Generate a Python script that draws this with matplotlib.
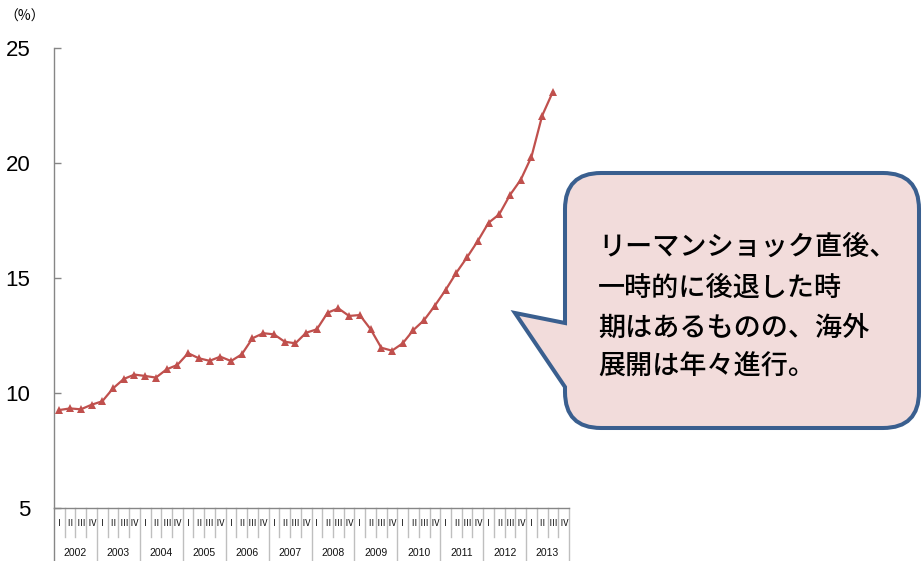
"""
海外生産比率（四半期）の推移と、リーマンショック後の動きを示す吹き出し付きグラフ。
"""
import matplotlib.pyplot as plt
from matplotlib.patches import PathPatch
from matplotlib.path import Path

# ---------------------------------------------------------------- データ
years = [str(y) for y in range(2002, 2014)]
quarters = ["Ⅰ", "Ⅱ", "Ⅲ", "Ⅳ"]
# 2002年Ⅰ期〜2013年Ⅲ期（%）
share = [9.26, 9.33, 9.29, 9.49, 9.64, 10.20, 10.61, 10.80, 10.74, 10.67,
         11.03, 11.22, 11.73, 11.51, 11.40, 11.58, 11.39, 11.68, 12.38, 12.60,
         12.55, 12.23, 12.16, 12.62, 12.77, 13.49, 13.68, 13.35, 13.39, 12.78,
         11.97, 11.84, 12.16, 12.74, 13.17, 13.80, 14.48, 15.23, 15.90, 16.61,
         17.40, 17.77, 18.61, 19.27, 20.27, 22.06, 23.10]
y_ticks = [5, 10, 15, 20, 25]
note_lines = ["リーマンショック直後、", "一時的に後退した時",
              "期はあるものの、海外", "展開は年々進行。"]

W, H = 922, 561
LINE_RED = "#C0504D"
GRID_GREY = "#BFBFBF"
AXIS_GREY = "#868686"
JP = ["Noto Sans CJK JP", "DejaVu Sans"]
NARROW = ["Liberation Sans Narrow", "Liberation Sans", "DejaVu Sans"]


def px(x, y):
    """ピクセル座標 -> figure 座標"""
    return x / W, 1 - y / H


def callout_path(left, top, right, bottom, r, tip, base_top, base_bot):
    verts, codes = [], []

    def move(p):
        verts.append(px(*p)); codes.append(Path.MOVETO)

    def line(p):
        verts.append(px(*p)); codes.append(Path.LINETO)

    def corner(c, p):
        verts.extend([px(*c), px(*p)]); codes.extend([Path.CURVE3, Path.CURVE3])

    move((left, base_top))
    line(tip)
    line((left, base_bot))
    line((left, bottom - r))
    corner((left, bottom), (left + r, bottom))
    line((right - r, bottom))
    corner((right, bottom), (right, bottom - r))
    line((right, top + r))
    corner((right, top), (right - r, top))
    line((left + r, top))
    corner((left, top), (left, top + r))
    line((left, base_top))
    verts.append(px(left, base_top)); codes.append(Path.CLOSEPOLY)
    return Path(verts, codes)


fig = plt.figure(figsize=(W / 100, H / 100), dpi=100)
ax = fig.add_axes([54 / W, 53 / H, 515 / W, 460 / H])

xs = list(range(len(share)))
ax.plot(xs, share, color=LINE_RED, linewidth=1.6, marker="^", markersize=6,
        markeredgewidth=0, zorder=3)

n_cat = len(years) * len(quarters)
ax.set_xlim(-0.5, n_cat - 0.5)
ax.set_ylim(5, 25)
ax.set_yticks(y_ticks)
ax.set_yticklabels([str(v) for v in y_ticks], family=NARROW, fontsize=16)
ax.set_xticks([])
ax.tick_params(axis="y", direction="in", length=5, width=1, color=AXIS_GREY, pad=17)

for side in ("top", "right"):
    ax.spines[side].set_visible(False)
for side in ("left", "bottom"):
    ax.spines[side].set_color(AXIS_GREY)
    ax.spines[side].set_linewidth(1)

# 横軸の表形式ラベル（四半期 / 年）
xt = ax.get_xaxis_transform()
q_sep = -29 / 460
y_sep = -53 / 460
for k in range(1, n_cat):
    if k % 4 == 0:
        ax.plot([k - 0.5, k - 0.5], [0, y_sep], transform=xt, color=GRID_GREY,
                linewidth=1, clip_on=False)
    else:
        ax.plot([k - 0.5, k - 0.5], [0, q_sep], transform=xt, color=GRID_GREY,
                linewidth=1, clip_on=False)
for edge in (-0.5, n_cat - 0.5):
    ax.plot([edge, edge], [0, y_sep], transform=xt, color=GRID_GREY if edge > 0 else AXIS_GREY,
            linewidth=1, clip_on=False)

for i, yr in enumerate(years):
    for j, q in enumerate(quarters):
        ax.text(i * 4 + j, -15 / 460, q, transform=xt, ha="center", va="center",
                fontsize=6.5, family=JP, color="#111111")
    ax.text(i * 4 + 1.5, -45 / 460, yr, transform=xt, ha="center", va="center",
            fontsize=7.5, family=NARROW, color="#111111")

fig.text(*px(25, 17), "（%）", ha="center", va="center", fontsize=10, family=JP)

# 吹き出し
bubble = callout_path(left=565, top=173, right=919, bottom=428, r=36,
                      tip=(515, 313), base_top=323, base_bot=387)
fig.patches.append(PathPatch(bubble, transform=fig.transFigure, facecolor="#F2DCDB",
                             edgecolor="#3A5F8F", linewidth=2.9, joinstyle="miter"))

for line_text, yc in zip(note_lines, [247, 288, 328, 366]):
    fig.text(*px(598, yc), line_text, ha="left", va="center", fontsize=19.5,
             family=JP, fontweight="medium", color="black")

fig.savefig("out.png", dpi=100)
